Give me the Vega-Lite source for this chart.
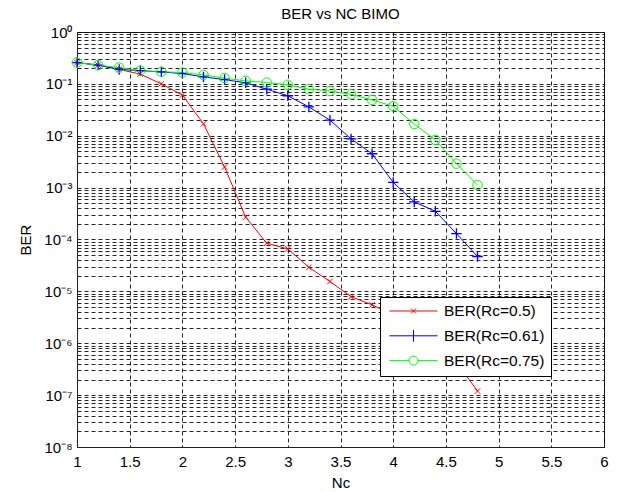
{
  "$schema": "https://vega.github.io/schema/vega-lite/v6.json",
  "width": 527,
  "height": 415,
  "autosize": {"type": "none"},
  "padding": {"left": 77, "top": 32, "right": 23, "bottom": 45},
  "background": "white",
  "config": {
    "font": "Liberation Sans",
    "view": {"stroke": "#222", "strokeWidth": 1},
    "axis": {
      "labelFont": "Liberation Sans", "titleFont": "Liberation Sans",
      "labelFontSize": 15, "titleFontSize": 15, "titleFontWeight": "normal",
      "labelColor": "#000", "titleColor": "#000",
      "domainColor": "#222", "grid": true, "gridColor": "#000", "gridOpacity": 0.85,
      "gridDash": [4, 3], "gridWidth": 1, "ticks": false, "labelOverlap": false, "labelFlush": false
    }
  },
  "title": {"text": "BER vs NC BIMO", "fontSize": 15, "fontWeight": "normal", "font": "Liberation Sans", "color": "#000", "offset": 3},
  "data": {"values": [
    {"series": "BER(Rc=0.5)", "Nc": 1.0, "BER": 0.257},
    {"series": "BER(Rc=0.5)", "Nc": 1.2, "BER": 0.23},
    {"series": "BER(Rc=0.5)", "Nc": 1.4, "BER": 0.19},
    {"series": "BER(Rc=0.5)", "Nc": 1.6, "BER": 0.154},
    {"series": "BER(Rc=0.5)", "Nc": 1.8, "BER": 0.10},
    {"series": "BER(Rc=0.5)", "Nc": 2.0, "BER": 0.061},
    {"series": "BER(Rc=0.5)", "Nc": 2.2, "BER": 0.017},
    {"series": "BER(Rc=0.5)", "Nc": 2.4, "BER": 0.0025},
    {"series": "BER(Rc=0.5)", "Nc": 2.6, "BER": 0.00027},
    {"series": "BER(Rc=0.5)", "Nc": 2.8, "BER": 0.000085},
    {"series": "BER(Rc=0.5)", "Nc": 3.0, "BER": 0.000066},
    {"series": "BER(Rc=0.5)", "Nc": 3.2, "BER": 0.000029},
    {"series": "BER(Rc=0.5)", "Nc": 3.4, "BER": 0.0000155},
    {"series": "BER(Rc=0.5)", "Nc": 3.6, "BER": 0.0000079},
    {"series": "BER(Rc=0.5)", "Nc": 3.8, "BER": 0.0000055},
    {"series": "BER(Rc=0.5)", "Nc": 4.0, "BER": 0.0000035},
    {"series": "BER(Rc=0.5)", "Nc": 4.2, "BER": 0.0000022},
    {"series": "BER(Rc=0.5)", "Nc": 4.4, "BER": 0.0000011},
    {"series": "BER(Rc=0.5)", "Nc": 4.6, "BER": 0.00000043},
    {"series": "BER(Rc=0.5)", "Nc": 4.8, "BER": 0.00000012},
    {"series": "BER(Rc=0.61)", "Nc": 1.0, "BER": 0.257},
    {"series": "BER(Rc=0.61)", "Nc": 1.2, "BER": 0.23},
    {"series": "BER(Rc=0.61)", "Nc": 1.4, "BER": 0.19},
    {"series": "BER(Rc=0.61)", "Nc": 1.6, "BER": 0.18},
    {"series": "BER(Rc=0.61)", "Nc": 1.8, "BER": 0.17},
    {"series": "BER(Rc=0.61)", "Nc": 2.0, "BER": 0.158},
    {"series": "BER(Rc=0.61)", "Nc": 2.2, "BER": 0.136},
    {"series": "BER(Rc=0.61)", "Nc": 2.4, "BER": 0.121},
    {"series": "BER(Rc=0.61)", "Nc": 2.6, "BER": 0.105},
    {"series": "BER(Rc=0.61)", "Nc": 2.8, "BER": 0.079},
    {"series": "BER(Rc=0.61)", "Nc": 3.0, "BER": 0.059},
    {"series": "BER(Rc=0.61)", "Nc": 3.2, "BER": 0.036},
    {"series": "BER(Rc=0.61)", "Nc": 3.4, "BER": 0.020},
    {"series": "BER(Rc=0.61)", "Nc": 3.6, "BER": 0.0087},
    {"series": "BER(Rc=0.61)", "Nc": 3.8, "BER": 0.0045},
    {"series": "BER(Rc=0.61)", "Nc": 4.0, "BER": 0.00126},
    {"series": "BER(Rc=0.61)", "Nc": 4.2, "BER": 0.00053},
    {"series": "BER(Rc=0.61)", "Nc": 4.4, "BER": 0.00035},
    {"series": "BER(Rc=0.61)", "Nc": 4.6, "BER": 0.00013},
    {"series": "BER(Rc=0.61)", "Nc": 4.8, "BER": 0.000047},
    {"series": "BER(Rc=0.75)", "Nc": 1.0, "BER": 0.257},
    {"series": "BER(Rc=0.75)", "Nc": 1.2, "BER": 0.23},
    {"series": "BER(Rc=0.75)", "Nc": 1.4, "BER": 0.206},
    {"series": "BER(Rc=0.75)", "Nc": 1.6, "BER": 0.18},
    {"series": "BER(Rc=0.75)", "Nc": 1.8, "BER": 0.172},
    {"series": "BER(Rc=0.75)", "Nc": 2.0, "BER": 0.165},
    {"series": "BER(Rc=0.75)", "Nc": 2.2, "BER": 0.149},
    {"series": "BER(Rc=0.75)", "Nc": 2.4, "BER": 0.129},
    {"series": "BER(Rc=0.75)", "Nc": 2.6, "BER": 0.114},
    {"series": "BER(Rc=0.75)", "Nc": 2.8, "BER": 0.106},
    {"series": "BER(Rc=0.75)", "Nc": 3.0, "BER": 0.096},
    {"series": "BER(Rc=0.75)", "Nc": 3.2, "BER": 0.079},
    {"series": "BER(Rc=0.75)", "Nc": 3.4, "BER": 0.073},
    {"series": "BER(Rc=0.75)", "Nc": 3.6, "BER": 0.063},
    {"series": "BER(Rc=0.75)", "Nc": 3.8, "BER": 0.049},
    {"series": "BER(Rc=0.75)", "Nc": 4.0, "BER": 0.037},
    {"series": "BER(Rc=0.75)", "Nc": 4.2, "BER": 0.0168},
    {"series": "BER(Rc=0.75)", "Nc": 4.4, "BER": 0.0083},
    {"series": "BER(Rc=0.75)", "Nc": 4.6, "BER": 0.0029},
    {"series": "BER(Rc=0.75)", "Nc": 4.8, "BER": 0.00112}
  ]},
  "encoding": {
    "x": {"field": "Nc", "type": "quantitative",
      "scale": {"domain": [1, 6], "nice": false, "zero": false},
      "axis": {"title": "Nc", "values": [1, 1.5, 2, 2.5, 3, 3.5, 4, 4.5, 5, 5.5, 6], "format": "~g", "labelPadding": 7, "titlePadding": 6}},
    "y": {"field": "BER", "type": "quantitative",
      "scale": {"type": "log", "domain": [1e-8, 1], "nice": false},
      "axis": {"title": "BER", "titlePadding": 10, "labelPadding": 5,
        "values": [1e-8, 2e-8, 3e-8, 4e-8, 5e-8, 6e-8, 7e-8, 8e-8, 9e-8,
                   1e-7, 2e-7, 3e-7, 4e-7, 5e-7, 6e-7, 7e-7, 8e-7, 9e-7,
                   1e-6, 2e-6, 3e-6, 4e-6, 5e-6, 6e-6, 7e-6, 8e-6, 9e-6,
                   1e-5, 2e-5, 3e-5, 4e-5, 5e-5, 6e-5, 7e-5, 8e-5, 9e-5,
                   1e-4, 2e-4, 3e-4, 4e-4, 5e-4, 6e-4, 7e-4, 8e-4, 9e-4,
                   1e-3, 2e-3, 3e-3, 4e-3, 5e-3, 6e-3, 7e-3, 8e-3, 9e-3,
                   1e-2, 2e-2, 3e-2, 4e-2, 5e-2, 6e-2, 7e-2, 8e-2, 9e-2,
                   1e-1, 2e-1, 3e-1, 4e-1, 5e-1, 6e-1, 7e-1, 8e-1, 9e-1, 1],
        "labelExpr": "abs(log(datum.value)/LN10 - round(log(datum.value)/LN10)) < 0.001 ? '10' + ['⁰','⁻¹','⁻²','⁻³','⁻⁴','⁻⁵','⁻⁶','⁻⁷','⁻⁸'][-round(log(datum.value)/LN10)] : ''"}}
  },
  "layer": [
    {
      "mark": {"type": "line", "strokeWidth": 1},
      "encoding": {
        "color": {"field": "series", "type": "nominal",
          "scale": {"domain": ["BER(Rc=0.5)", "BER(Rc=0.61)", "BER(Rc=0.75)"], "range": ["#ff0000", "#0000ff", "#00ff00"]},
          "legend": {
            "title": null, "orient": "none", "legendX": 303, "legendY": 265,
            "fillColor": "white", "strokeColor": "#000", "padding": 6,
            "labelFont": "Liberation Sans", "labelFontSize": 15.5, "labelColor": "#000",
            "symbolSize": 225, "symbolStrokeWidth": 1, "labelOffset": 42, "rowPadding": 7.8,
            "encode": {"symbols": {"update": {
              "shape": {"signal": "datum.value === 'BER(Rc=0.5)' ? 'M-0.6,0H5.8M2.27,-0.33L2.93,0.33M2.27,0.33L2.93,-0.33' : datum.value === 'BER(Rc=0.61)' ? 'M-0.6,0H5.8M2.6,-0.8V0.8' : 'M-0.6,0H2.0M3.2,0H5.8M3.2,0A0.6,0.6 0 1,1 2.0,0A0.6,0.6 0 1,1 3.2,0'"},
              "fill": {"value": "transparent"}
            }}}
          }}
      }
    },
    {
      "transform": [{"filter": "datum.series === 'BER(Rc=0.5)'"}],
      "mark": {"type": "point", "shape": "M-1,-1L1,1M-1,1L1,-1", "size": 30, "color": "#ff0000", "filled": false, "strokeWidth": 1, "opacity": 1}
    },
    {
      "transform": [{"filter": "datum.series === 'BER(Rc=0.61)'"}],
      "mark": {"type": "point", "shape": "M-1,0H1M0,-1V1", "size": 110, "color": "#0000ff", "filled": false, "strokeWidth": 1.3, "opacity": 1}
    },
    {
      "transform": [{"filter": "datum.series === 'BER(Rc=0.75)'"}],
      "mark": {"type": "point", "shape": "circle", "size": 90, "color": "#00ff00", "filled": false, "strokeWidth": 1, "opacity": 1}
    }
  ]
}
